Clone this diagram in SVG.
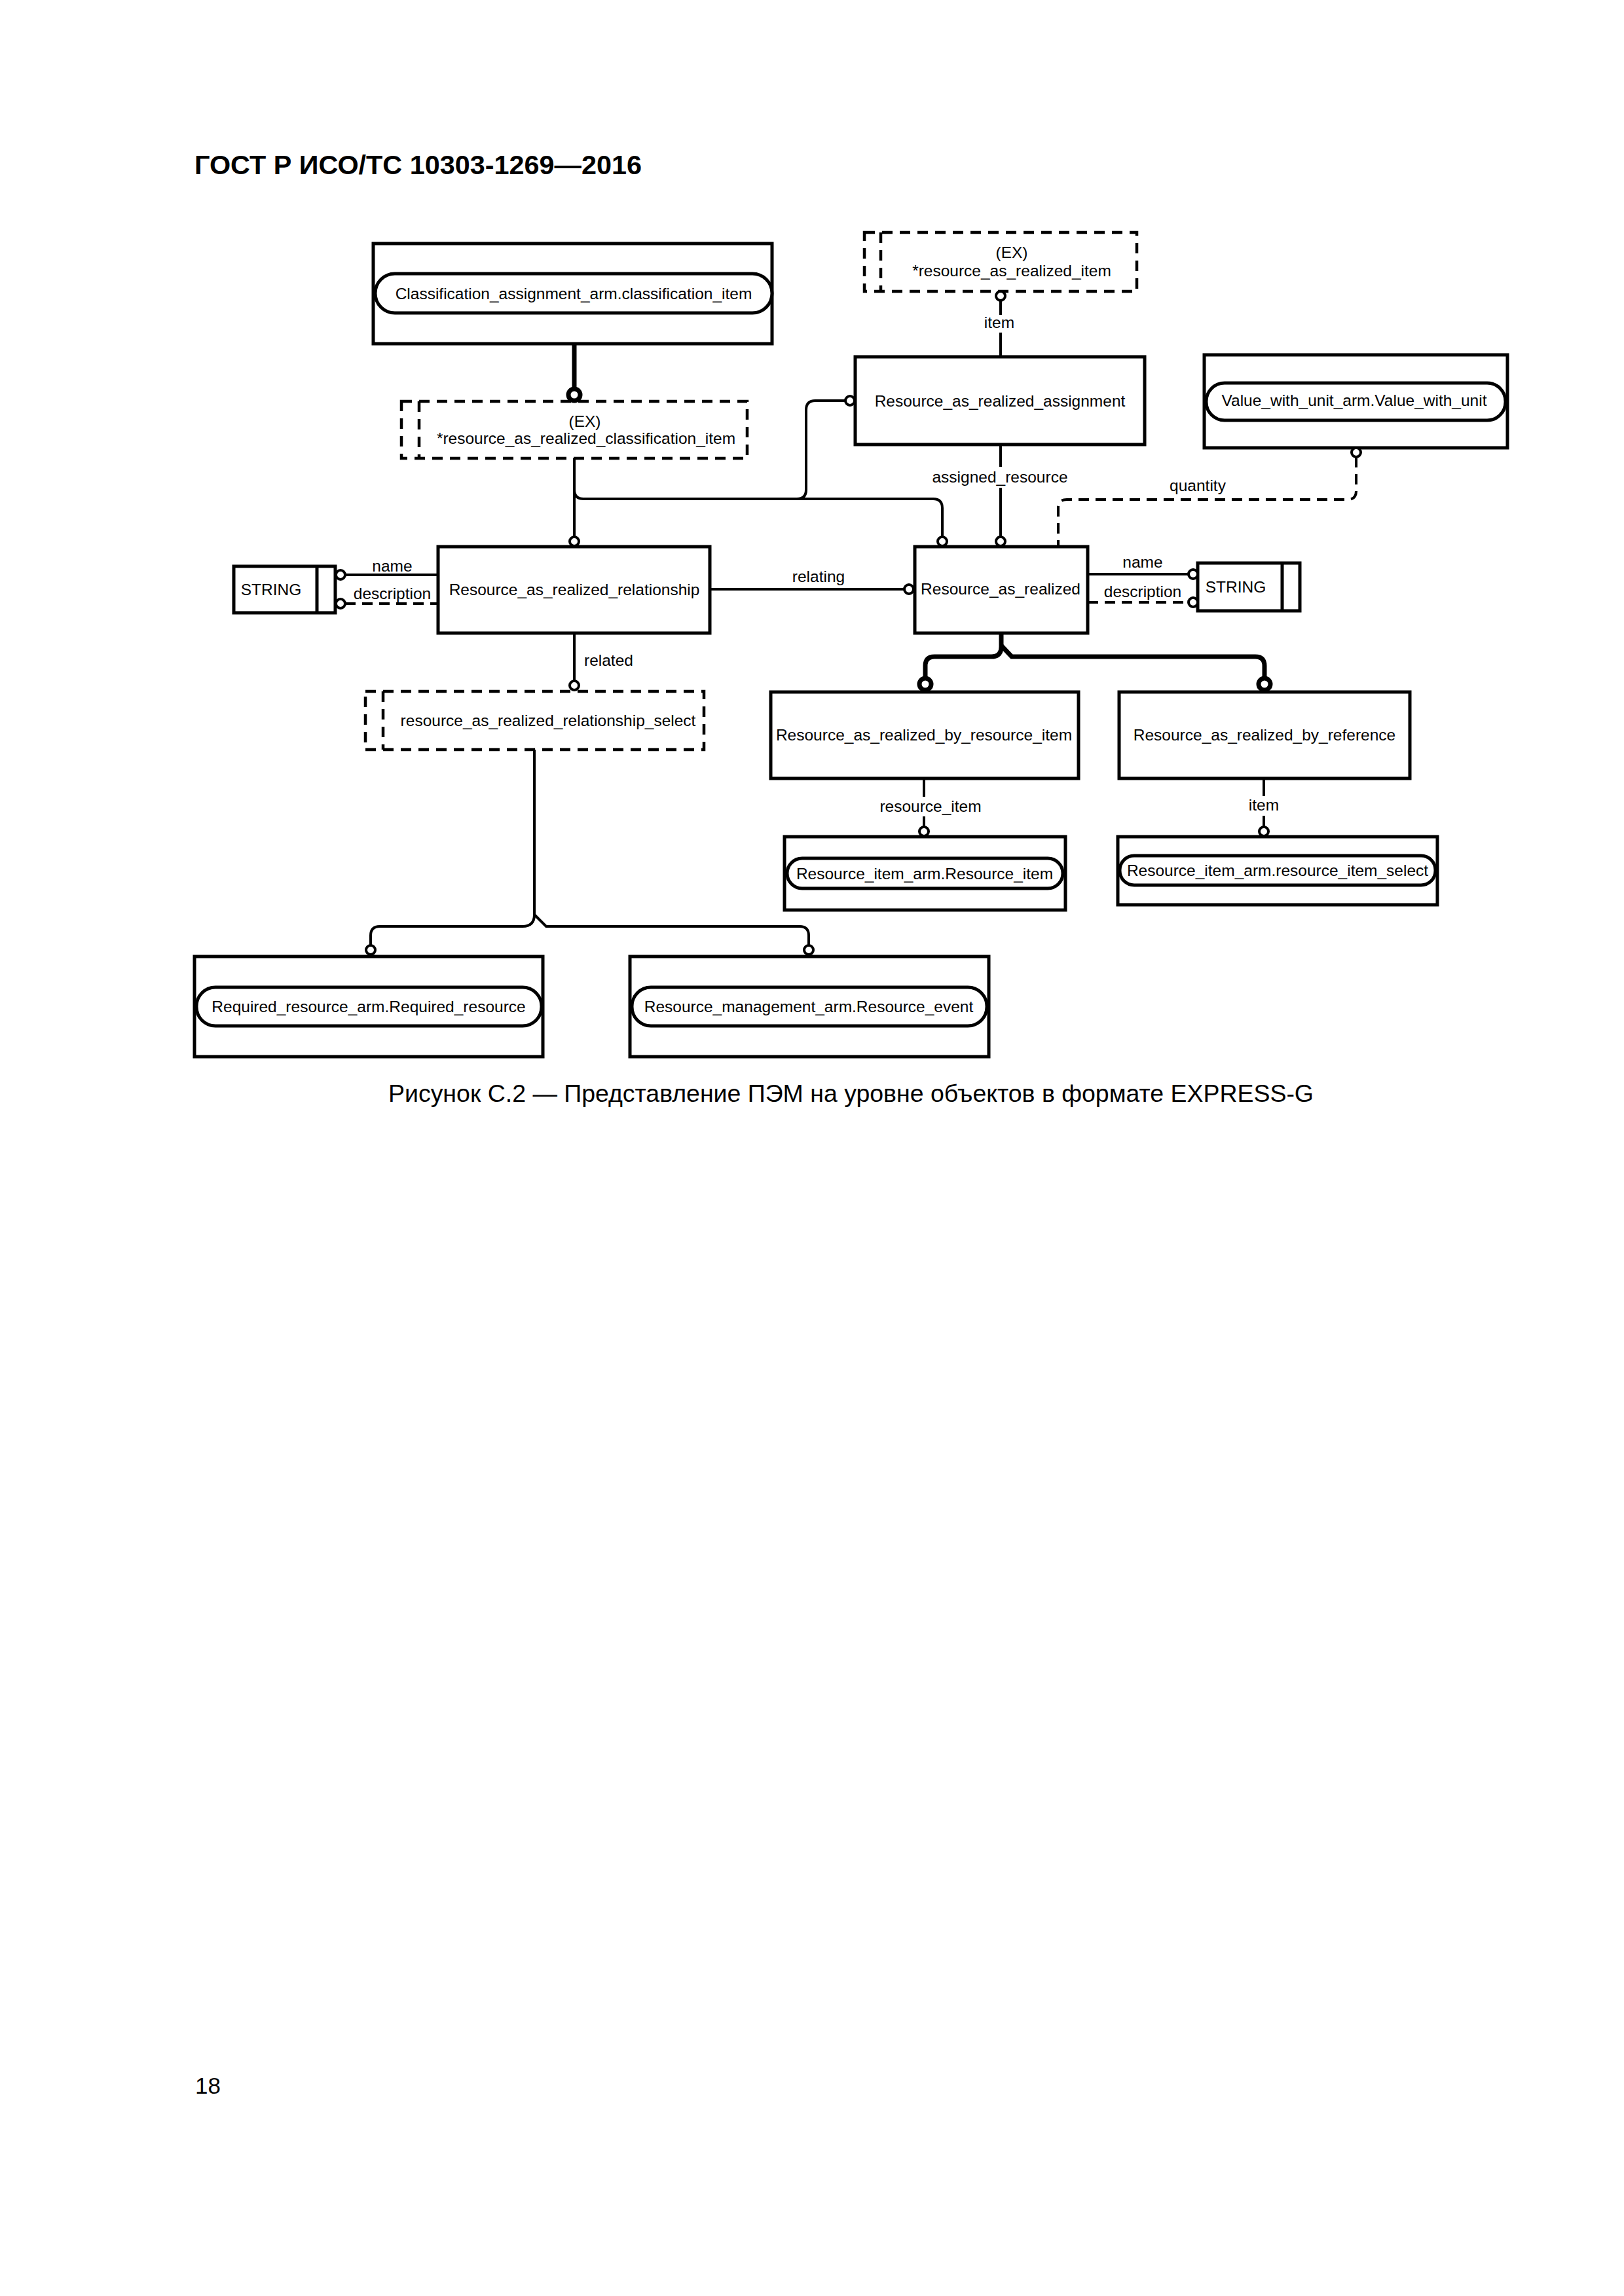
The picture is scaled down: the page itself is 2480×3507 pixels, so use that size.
<svg xmlns="http://www.w3.org/2000/svg" width="2480" height="3507" viewBox="0 0 2480 3507">
<style>
.bg{fill:#fff}
.box{fill:#fff;stroke:#000;stroke-width:5}
.pill{fill:#fff;stroke:#000;stroke-width:5}
.dbox{fill:#fff;stroke:#000;stroke-width:4.5;stroke-dasharray:16 11}
.dln{fill:none;stroke:#000;stroke-width:4.5;stroke-dasharray:16 11}
.ln{fill:none;stroke:#000;stroke-width:4}
.dash{fill:none;stroke:#000;stroke-width:4;stroke-dasharray:16 10}
.thick{fill:none;stroke:#000;stroke-width:7}
.c{fill:#fff;stroke:#000;stroke-width:4}
.tc{fill:#fff;stroke:#000;stroke-width:7}
text{font-family:"Liberation Sans",Arial,"Noto Sans",sans-serif;fill:#000}
.t{font-size:24.5px;text-anchor:middle}
.l{font-size:24.5px;text-anchor:middle}
</style>
<rect class="bg" x="0" y="0" width="2480" height="3507"/>
<text x="297" y="266" font-size="40" font-weight="bold" textLength="683" lengthAdjust="spacingAndGlyphs">ГОСТ Р ИСО/ТС 10303-1269—2016</text>

<g id="n_classification">
<rect class="box" x="570" y="372" width="609" height="153"/>
<rect class="pill" x="573" y="418" width="606" height="60" rx="30" ry="30"/>
<text class="t" x="876" y="457">Classification_assignment_arm.classification_item</text>
</g>
<g id="n_ex_classification">
<rect class="dbox" x="613" y="613" width="528" height="87"/>
<line class="dln" x1="640" y1="613" x2="640" y2="700"/>
<text class="t" x="893" y="652">(EX)</text>
<text class="t" x="895" y="678">*resource_as_realized_classification_item</text>
</g>
<g id="n_ex_item">
<rect class="dbox" x="1320" y="355" width="416" height="90"/>
<line class="dln" x1="1345" y1="355" x2="1345" y2="445"/>
<text class="t" x="1545" y="394">(EX)</text>
<text class="t" x="1545" y="422">*resource_as_realized_item</text>
</g>
<g id="n_assignment">
<rect class="box" x="1306" y="545" width="442" height="134"/>
<text class="t" x="1527" y="621">Resource_as_realized_assignment</text>
</g>
<g id="n_value">
<rect class="box" x="1839" y="542" width="463" height="142"/>
<rect class="pill" x="1842" y="585" width="457" height="57" rx="28" ry="28"/>
<text class="t" x="2068" y="620">Value_with_unit_arm.Value_with_unit</text>
</g>
<g id="n_raR">
<rect class="box" x="1397" y="835" width="264" height="132"/>
<text class="t" x="1528" y="908">Resource_as_realized</text>
</g>
<g id="n_string_right">
<rect class="box" x="1829" y="860" width="156" height="73"/>
<line class="ln" x1="1958" y1="860" x2="1958" y2="933" style="stroke-width:5"/>
<text class="t" x="1887" y="905">STRING</text>
</g>
<g id="n_relationship">
<rect class="box" x="669" y="835" width="415" height="132"/>
<text class="t" x="877" y="909">Resource_as_realized_relationship</text>
</g>
<g id="n_string_left">
<rect class="box" x="357" y="865" width="155" height="71"/>
<line class="ln" x1="484" y1="865" x2="484" y2="936" style="stroke-width:5"/>
<text class="t" x="414" y="909">STRING</text>
</g>
<g id="n_rel_select">
<rect class="dbox" x="558" y="1056" width="517" height="89"/>
<line class="dln" x1="585" y1="1056" x2="585" y2="1145"/>
<text class="t" x="837" y="1109">resource_as_realized_relationship_select</text>
</g>
<g id="n_required">
<rect class="box" x="297" y="1461" width="532" height="153"/>
<rect class="pill" x="300" y="1508" width="527" height="59" rx="29" ry="29"/>
<text class="t" x="563" y="1546">Required_resource_arm.Required_resource</text>
</g>
<g id="n_event">
<rect class="box" x="962" y="1461" width="548" height="153"/>
<rect class="pill" x="965" y="1508" width="542" height="59" rx="29" ry="29"/>
<text class="t" x="1235" y="1546">Resource_management_arm.Resource_event</text>
</g>
<g id="n_by_item">
<rect class="box" x="1177" y="1057" width="470" height="132"/>
<text class="t" x="1411" y="1131">Resource_as_realized_by_resource_item</text>
</g>
<g id="n_by_reference">
<rect class="box" x="1709" y="1057" width="444" height="132"/>
<text class="t" x="1931" y="1131">Resource_as_realized_by_reference</text>
</g>
<g id="n_resource_item">
<rect class="box" x="1198" y="1278" width="429" height="112"/>
<rect class="pill" x="1202" y="1311" width="421" height="46" rx="23" ry="23"/>
<text class="t" x="1412" y="1343">Resource_item_arm.Resource_item</text>
</g>
<g id="n_resource_item_select">
<rect class="box" x="1707" y="1278" width="488" height="104"/>
<rect class="pill" x="1710" y="1307" width="482" height="45" rx="22" ry="22"/>
<text class="t" x="1951" y="1338">Resource_item_arm.resource_item_select</text>
</g>

<g id="connectors">
<!-- classification -> EX classification (thick) -->
<line class="thick" x1="877" y1="525" x2="877" y2="593"/>
<circle class="tc" cx="877" cy="603" r="9"/>
<!-- EX classification select branches -->
<path class="ln" d="M877,700 L877,820"/>
<path class="ln" d="M877,748 Q877,762 891,762 L1425,762 Q1439,762 1439,776 L1439,820"/>
<path class="ln" d="M1217,762 Q1231,762 1231,748 L1231,626 Q1231,612 1245,612 L1291,612"/>
<circle class="c" cx="877" cy="827" r="7"/>
<circle class="c" cx="1439" cy="827" r="7"/>
<circle class="c" cx="1298" cy="612" r="7"/>
<!-- item -->
<line class="ln" x1="1528" y1="545" x2="1528" y2="508"/>
<line class="ln" x1="1528" y1="481" x2="1528" y2="459"/>
<circle class="c" cx="1528" cy="452" r="7"/>
<text class="l" x="1526" y="501">item</text>
<!-- assigned_resource -->
<line class="ln" x1="1528" y1="679" x2="1528" y2="713"/>
<line class="ln" x1="1528" y1="745" x2="1528" y2="820"/>
<circle class="c" cx="1528" cy="827" r="7"/>
<text class="l" x="1527" y="737">assigned_resource</text>
<!-- quantity -->
<path class="dash" d="M2071,698 L2071,750 Q2071,763 2058,763 L1629,763 Q1616,763 1616,776 L1616,835"/>
<circle class="c" cx="2071" cy="691" r="7"/>
<text class="l" x="1829" y="750">quantity</text>
<!-- RaR name / description -->
<line class="ln" x1="1661" y1="877" x2="1815" y2="877"/>
<circle class="c" cx="1822" cy="877" r="7"/>
<text class="l" x="1745" y="867">name</text>
<line class="dash" x1="1661" y1="920" x2="1815" y2="920"/>
<circle class="c" cx="1822" cy="920" r="7"/>
<text class="l" x="1745" y="912">description</text>
<!-- relationship name / description -->
<line class="ln" x1="527" y1="878" x2="669" y2="878"/>
<circle class="c" cx="520" cy="878" r="7"/>
<text class="l" x="599" y="873">name</text>
<line class="dash" x1="527" y1="922" x2="669" y2="922"/>
<circle class="c" cx="520" cy="922" r="7"/>
<text class="l" x="599" y="915">description</text>
<!-- relating -->
<line class="ln" x1="1084" y1="900" x2="1381" y2="900"/>
<circle class="c" cx="1388" cy="900" r="7"/>
<text class="l" x="1250" y="889">relating</text>
<!-- related -->
<line class="ln" x1="877" y1="967" x2="877" y2="1040"/>
<circle class="c" cx="877" cy="1047" r="7"/>
<text x="892" y="1017" font-size="24.5">related</text>
<!-- select fan-out -->
<path class="ln" d="M816,1145 L816,1397 Q816,1415 798,1415 L580,1415 Q566,1415 566,1429 L566,1444"/>
<path class="ln" d="M816,1397 L834,1415 L1221,1415 Q1235,1415 1235,1429 L1235,1444"/>
<circle class="c" cx="566" cy="1451" r="7"/>
<circle class="c" cx="1235" cy="1451" r="7"/>
<!-- subtype fan-out (thick) -->
<path class="thick" d="M1529,967 L1529,988 Q1529,1003 1514,1003 L1427,1003 Q1413,1003 1413,1017 L1413,1036"/>
<path class="thick" d="M1529,986 L1545,1003 L1917,1003 Q1931,1003 1931,1017 L1931,1036"/>
<circle class="tc" cx="1413" cy="1045" r="9"/>
<circle class="tc" cx="1931" cy="1045" r="9"/>
<!-- resource_item -->
<line class="ln" x1="1411" y1="1189" x2="1411" y2="1217"/>
<line class="ln" x1="1411" y1="1247" x2="1411" y2="1263"/>
<circle class="c" cx="1411" cy="1270" r="7"/>
<text class="l" x="1421" y="1240">resource_item</text>
<!-- item (by_reference) -->
<line class="ln" x1="1930" y1="1189" x2="1930" y2="1216"/>
<line class="ln" x1="1930" y1="1246" x2="1930" y2="1263"/>
<circle class="c" cx="1930" cy="1270" r="7"/>
<text class="l" x="1930" y="1238">item</text>
</g>

<text x="593" y="1683" font-size="37" textLength="1413" lengthAdjust="spacingAndGlyphs">Рисунок С.2 — Представление ПЭМ на уровне объектов в формате EXPRESS-G</text>
<text x="298" y="3198" font-size="35">18</text>
</svg>
